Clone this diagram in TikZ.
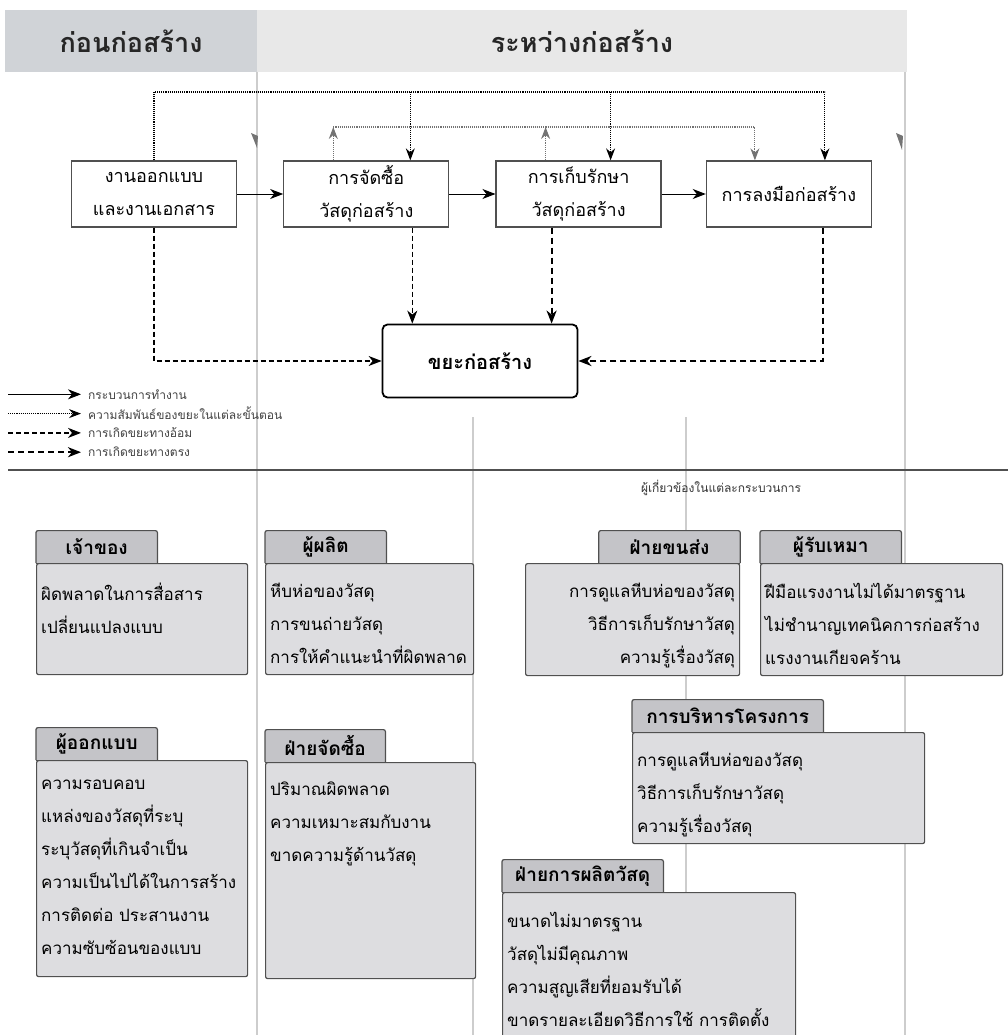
\documentclass[tikz,border=0pt]{standalone}
\usepackage{fontspec}
\newfontfamily\thai[Script=Thai]{Loma}
\usepackage{tikz}
\usepackage{xcolor}
\usetikzlibrary{positioning, arrows.meta}
\definecolor{hdrdark}{RGB}{208, 211, 215}
\definecolor{hdrlight}{RGB}{232, 232, 232}
\definecolor{tabgray}{RGB}{196, 196, 200}
\definecolor{bodygray}{RGB}{221, 221, 224}
\definecolor{edgegray}{RGB}{80, 80, 80}
\definecolor{guidegray}{RGB}{205, 205, 205}
\definecolor{tipgray}{RGB}{115, 115, 115}
\tikzset{
    headtext/.style={font=\thai\bfseries\fontsize{27}{30}\selectfont, text=black!85},
    procbox/.style={draw=edgegray, line width=1.3pt, fill=white, minimum width=165pt, minimum height=66pt, align=center, font=\thai\fontsize{18}{33}\selectfont},
    wastebox/.style={draw=black, line width=1.8pt, fill=white, rounded corners=5pt, minimum width=195pt, minimum height=73pt, font=\thai\bfseries\fontsize{20}{24}\selectfont},
    flow/.style={line width=1pt, -{Stealth[length=13pt, width=10pt, inset=4pt]}},
    relation/.style={line width=1.1pt, densely dotted, -{Stealth[length=12pt, width=9pt, inset=4pt]}},
    grayrel/.style={relation, draw=tipgray},
    indirect/.style={line width=1.2pt, dash pattern=on 5pt off 3pt, -{Stealth[length=13pt, width=10pt, inset=4pt]}},
    direct/.style={line width=2.2pt, dash pattern=on 6pt off 4pt, -{Stealth[length=13pt, width=10pt, inset=4pt]}},
    guide/.style={draw=guidegray, line width=1.4pt},
    legendtext/.style={font=\thai\fontsize{12}{14}\selectfont, text=black!75, inner sep=1pt},
    bodybox/.style={draw=edgegray, line width=1.2pt, fill=bodygray, rounded corners=2pt},
    tabbox/.style={fill=tabgray, minimum height=32pt, font=\thai\bfseries\fontsize{19}{22}\selectfont},
    tabedge/.style={draw=edgegray, line width=1.2pt, rounded corners=2pt},
    tabseam/.style={draw=edgegray, line width=1pt, dash pattern=on 4pt off 2pt},
    listtext/.style={font=\thai\fontsize{17}{33}\selectfont, inner xsep=5pt, inner ysep=20pt},
    listwest/.style={align=left},
    listeast/.style={align=right}
}
% name, x, y of seam, tab width, body width, body height, side, title, lines
\newcommand{\stakebox}[9]{%
    \node[bodybox, minimum width=#5pt, minimum height=#6pt, anchor=north west] (#1body) at (#2,#3) {};
    \node[tabbox, minimum width=#4pt, anchor=south #7] (#1tab) at (#1body.north #7) {#8};
    \draw[tabedge] (#1tab.south west) -- (#1tab.north west) -- (#1tab.north east) -- (#1tab.south east);
    \draw[tabseam] (#1tab.south west) -- (#1tab.south east);
    \node[listtext, list#7, anchor=north #7] (#1text) at (#1body.north #7) {#9};
}

\begin{document}
\begin{tikzpicture}[x=1pt, y=-1pt]
    \clip (0,0) rectangle (1008,1035);
    % header band
    \fill[hdrdark] (5,10) rectangle (257,72);
    \fill[hdrlight] (257,10) rectangle (907,72);
    \node[headtext] (beforeHead) at (131,41) {ก่อนก่อสร้าง};
    \node[headtext] (duringHead) at (582,41) {ระหว่างก่อสร้าง};
    % guide lines
    \draw[guide] (257,72) -- (257,1035);
    \draw[guide] (905,72) -- (905,1035);
    \draw[guide] (473,417) -- (473,1035);
    \draw[guide] (686,417) -- (686,1035);
    \fill[tipgray] (251,133) -- (258,136) -- (257,148) -- cycle;
    \fill[tipgray] (896,133) -- (903,136) -- (902,150) -- cycle;

    % process
    \node[procbox] (design) at (154,194) {งานออกแบบ\\และงานเอกสาร};
    \node[procbox, right=46pt of design] (purchase) {การจัดซื้อ\\วัสดุก่อสร้าง};
    \node[procbox, right=46pt of purchase] (storage) {การเก็บรักษา\\วัสดุก่อสร้าง};
    \node[procbox, right=44pt of storage] (build) {การลงมือก่อสร้าง};
    \node[wastebox] (waste) at (480,361) {ขยะก่อสร้าง};

    \draw[flow] (design) -- (purchase);
    \draw[flow] (purchase) -- (storage);
    \draw[flow] (storage) -- (build);

    % relations between steps
    \coordinate (topLine) at (0,92);
    \coordinate (midLine) at (0,127);
    \coordinate (pIn) at ([xshift=44pt]purchase.north);
    \coordinate (sIn) at ([xshift=32pt]storage.north);
    \coordinate (bIn) at ([xshift=36pt]build.north);
    \coordinate (pOut) at ([xshift=-33pt]purchase.north);
    \coordinate (sOut) at ([xshift=-33pt]storage.north);
    \coordinate (bMid) at ([xshift=-34pt]build.north);
    \draw[relation] (design.north) |- (topLine -| bIn) -- (bIn);
    \draw[relation] (pIn |- topLine) -- (pIn);
    \draw[relation] (sIn |- topLine) -- (sIn);
    \draw[grayrel] (pOut) -- (pOut |- midLine);
    \draw[grayrel] (sOut) -- (sOut |- midLine);
    \draw[grayrel] (pOut |- midLine) -- (midLine -| bMid) -- (bMid);

    % waste
    \coordinate (pDown) at ([xshift=46pt]purchase.south);
    \coordinate (sDown) at ([xshift=-27pt]storage.south);
    \coordinate (bDown) at ([xshift=34pt]build.south);
    \draw[indirect] (design.south) |- (waste.west);
    \draw[indirect] (pDown) -- (pDown |- waste.north);
    \draw[direct] (sDown) -- (sDown |- waste.north);
    \draw[direct] (bDown) |- (waste.east);

    % legend
    \foreach \st/\txt [count=\i] in {flow/กระบวนการทำงาน, relation/ความสัมพันธ์ของขยะในแต่ละขั้นตอน, indirect/การเกิดขยะทางอ้อม, direct/การเกิดขยะทางตรง} {
        \node[legendtext, anchor=west] (leg\i) at (87,375+19.3*\i) {\txt};
        \coordinate (legStart\i) at (8,375+19.3*\i);
        \draw[\st] (legStart\i) -- ([xshift=-6pt]leg\i.west);
    }
    \draw[edgegray, line width=2.5pt] (8,470) -- (1008,470);
    \node[font=\thai\fontsize{12}{14}\selectfont, text=black!80] (peopleCap) at (721,488) {ผู้เกี่ยวข้องในแต่ละกระบวนการ};

    % stakeholders
    \stakebox{owner}{36}{563}{121}{211}{111}{west}{เจ้าของ}{ผิดพลาดในการสื่อสาร\\เปลี่ยนแปลงแบบ}
    \stakebox{maker}{265}{563}{121}{208}{111}{west}{ผู้ผลิต}{หีบห่อของวัสดุ\\การขนถ่ายวัสดุ\\การให้คำแนะนำที่ผิดพลาด}
    \stakebox{ship}{525}{563}{141}{214}{112}{east}{ฝ่ายขนส่ง}{การดูแลหีบห่อของวัสดุ\\วิธีการเก็บรักษาวัสดุ\\ความรู้เรื่องวัสดุ}
    \stakebox{contractor}{760}{563}{141}{242}{112}{west}{ผู้รับเหมา}{ฝีมือแรงงานไม่ได้มาตรฐาน\\ไม่ชำนาญเทคนิคการก่อสร้าง\\แรงงานเกียจคร้าน}
    \stakebox{manage}{632}{732}{191}{292}{111}{west}{การบริหารโครงการ}{การดูแลหีบห่อของวัสดุ\\วิธีการเก็บรักษาวัสดุ\\ความรู้เรื่องวัสดุ}
    \stakebox{supply}{502}{892}{161}{293}{160}{west}{ฝ่ายการผลิตวัสดุ}{ขนาดไม่มาตรฐาน\\วัสดุไม่มีคุณภาพ\\ความสูญเสียที่ยอมรับได้\\ขาดรายละเอียดวิธีการใช้ การติดตั้ง}
    \stakebox{designer}{36}{760}{121}{211}{216}{west}{ผู้ออกแบบ}{ความรอบคอบ\\แหล่งของวัสดุที่ระบุ\\ระบุวัสดุที่เกินจำเป็น\\ความเป็นไปได้ในการสร้าง\\การติดต่อ ประสานงาน\\ความซับซ้อนของแบบ}
    \stakebox{buyer}{265}{762}{120}{210}{216}{west}{ฝ่ายจัดซื้อ}{ปริมาณผิดพลาด\\ความเหมาะสมกับงาน\\ขาดความรู้ด้านวัสดุ}
\end{tikzpicture}
\end{document}
